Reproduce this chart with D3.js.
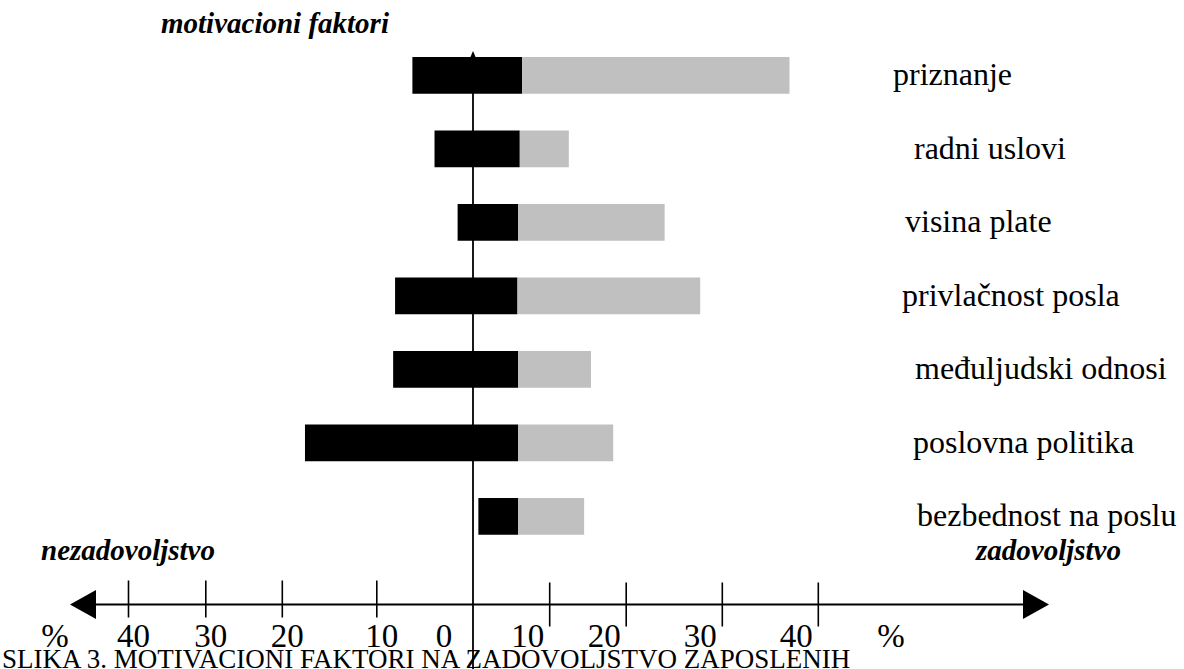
<!DOCTYPE html>
<html>
<head>
<meta charset="utf-8">
<script src="https://cdn.jsdelivr.net/npm/d3@7"></script>
<style>
  html, body { margin: 0; padding: 0; background: #fff; overflow: hidden; }
  text { font-family: "Liberation Serif", "Times New Roman", serif; fill: #000; }
</style>
</head>
<body>
<svg id="chart" width="1184" height="669"></svg>
<script>
// Motivacioni faktori: dark segment = nezadovoljstvo, light segment = zadovoljstvo (u %)
const faktori = [
  "priznanje",
  "radni uslovi",
  "visina plate",
  "privlačnost posla",
  "međuljudski odnosi",
  "poslovna politika",
  "bezbednost na poslu"
];
// left end of the dark segment (% on the axis, negative = nezadovoljstvo side)
const pocetak = [-6.3, -4.0, -1.6, -8.1, -8.3, -17.6, 0.7];
// point where the dark segment meets the light one
const granica = [6.4, 6.1, 5.9, 5.8, 5.9, 5.9, 5.9];
// right end of the light segment
const kraj = [37.0, 12.5, 24.0, 27.7, 15.4, 18.3, 14.5];
// axis tick values
const podeoci = [-40, -30, -20, -10, 0, 10, 20, 30, 40];

const W = 1184, H = 669;
const svg = d3.select("#chart");

// hand-spaced percentage axis
const x = d3.scaleLinear()
  .domain(podeoci)
  .range([128.5, 205.8, 282.3, 376.8, 473, 549.7, 626.2, 722.3, 818.3]);

const y = d3.scaleBand()
  .domain(faktori)
  .range([20.25, 571.5])
  .padding(0.5);

const rows = faktori.map((f, i) => ({ f, a: pocetak[i], b: granica[i], c: kraj[i] }));

const axisY = 604.5;
const x0 = x(0);

// vertical axis with a small arrowhead on top
svg.append("line")
  .attr("x1", x0).attr("x2", x0)
  .attr("y1", 55).attr("y2", H)
  .attr("stroke", "#000").attr("stroke-width", 1.8);
svg.append("path")
  .attr("d", `M${x0},51 L${x0 - 3},58 L${x0 + 3},58 Z`)
  .attr("fill", "#000");

// horizontal axis with arrowheads on both ends
svg.append("line")
  .attr("x1", 80).attr("x2", 1040)
  .attr("y1", axisY).attr("y2", axisY)
  .attr("stroke", "#000").attr("stroke-width", 1.8);
svg.append("path")
  .attr("d", `M70,${axisY} L96,${axisY - 14.5} L96,${axisY + 14.5} Z`)
  .attr("fill", "#000");
svg.append("path")
  .attr("d", `M1049,${axisY} L1023,${axisY - 14.5} L1023,${axisY + 14.5} Z`)
  .attr("fill", "#000");

// tick marks
svg.append("g").selectAll("line")
  .data(podeoci.filter(v => v !== 0))
  .join("line")
  .attr("x1", d => x(d)).attr("x2", d => x(d))
  .attr("y1", d => d < 0 ? axisY - 24 : axisY - 22)
  .attr("y2", d => d < 0 ? axisY + 13 : axisY + 22)
  .attr("stroke", "#000").attr("stroke-width", 1.6);

// tick labels
svg.append("g").selectAll("text")
  .data(podeoci)
  .join("text")
  .attr("x", d => x(d) + (d < 0 ? 5 : d === 0 ? -29 : -22))
  .attr("y", 647)
  .attr("text-anchor", "middle")
  .attr("font-size", 33)
  .text(d => Math.abs(d));

svg.append("text").attr("x", 55).attr("y", 647)
  .attr("text-anchor", "middle").attr("font-size", 33).text("%");
svg.append("text").attr("x", 891).attr("y", 647)
  .attr("text-anchor", "middle").attr("font-size", 33).text("%");

// bars
const bars = svg.append("g");
bars.selectAll("rect.nez")
  .data(rows)
  .join("rect")
  .attr("class", "nez")
  .attr("x", d => x(d.a))
  .attr("width", d => x(d.b) - x(d.a))
  .attr("y", d => y(d.f))
  .attr("height", y.bandwidth())
  .attr("fill", "#000");
bars.selectAll("rect.zad")
  .data(rows)
  .join("rect")
  .attr("class", "zad")
  .attr("x", d => x(d.b))
  .attr("width", d => x(d.c) - x(d.b))
  .attr("y", d => y(d.f))
  .attr("height", y.bandwidth())
  .attr("fill", "#c0c0c0");

// category labels at the right
const labelBase = 893;
const uvlaka = [0, 21, 12, 9, 22, 20, 24];
svg.append("g").selectAll("text")
  .data(rows)
  .join("text")
  .attr("x", (d, i) => labelBase + uvlaka[i])
  .attr("y", d => y(d.f) + y.bandwidth() / 2 + 10)
  .attr("font-size", 32)
  .text(d => d.f);

// titles
svg.append("text").attr("x", 161).attr("y", 33)
  .attr("font-size", 29).attr("font-weight", "bold").attr("font-style", "italic")
  .text("motivacioni faktori");
svg.append("text").attr("x", 41).attr("y", 560)
  .attr("font-size", 29).attr("font-weight", "bold").attr("font-style", "italic")
  .text("nezadovoljstvo");
svg.append("text").attr("x", 1121).attr("y", 560)
  .attr("text-anchor", "end")
  .attr("font-size", 29).attr("font-weight", "bold").attr("font-style", "italic")
  .text("zadovoljstvo");

// caption
svg.append("text").attr("x", 2).attr("y", 668)
  .attr("font-size", 27)
  .text("SLIKA 3. MOTIVACIONI FAKTORI NA ZADOVOLJSTVO ZAPOSLENIH");
</script>
</body>
</html>
